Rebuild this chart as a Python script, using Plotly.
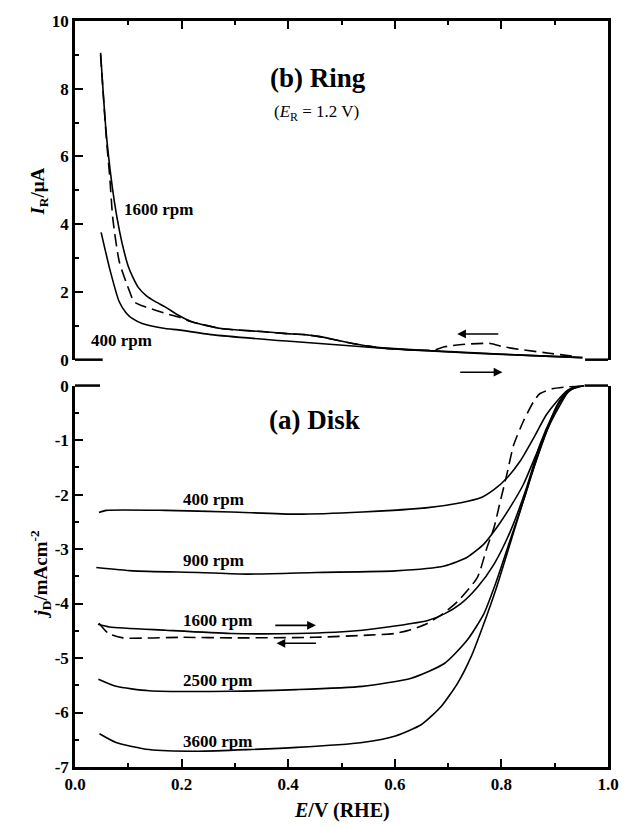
import plotly.graph_objects as go

# ---------------- data ----------------
# (b) Ring current, I_R / uA  vs  E / V (RHE)
E_ring_1600 = [0.048, 0.059, 0.074, 0.084, 0.092, 0.100, 0.108, 0.118, 0.133, 0.150, 0.169, 0.194, 0.219, 0.274,
               0.35, 0.397, 0.43, 0.459, 0.49, 0.521, 0.55, 0.582, 0.675, 0.767, 0.86, 0.952]
I_ring_1600 = [9.06, 6.61, 4.65, 3.76, 3.2, 2.75, 2.45, 2.15, 1.90, 1.72, 1.56, 1.31, 1.12, 0.92,
               0.83, 0.77, 0.74, 0.68, 0.58, 0.48, 0.40, 0.34, 0.26, 0.19, 0.12, 0.06]

E_ring_1600r = [0.048, 0.059, 0.065, 0.071, 0.083, 0.098, 0.111, 0.126, 0.176, 0.194, 0.219, 0.274, 0.35, 0.397,
                0.43, 0.459, 0.49, 0.521, 0.55, 0.582, 0.64, 0.675, 0.693, 0.736, 0.779, 0.804, 0.841, 0.890, 0.940]
I_ring_1600r = [9.0, 6.5, 5.43, 4.16, 2.9, 2.2, 1.71, 1.59, 1.34, 1.26, 1.12, 0.92, 0.83, 0.77,
                0.74, 0.68, 0.58, 0.48, 0.40, 0.34, 0.28, 0.29, 0.38, 0.46, 0.48, 0.38, 0.29, 0.19, 0.09]

E_ring_400 = [0.049, 0.065, 0.083, 0.096, 0.108, 0.126, 0.169, 0.194, 0.255, 0.397, 0.459, 0.582, 0.675, 0.767, 0.86, 0.952]
I_ring_400 = [3.76, 2.69, 1.71, 1.38, 1.21, 1.07, 0.92, 0.88, 0.74, 0.55, 0.48, 0.33, 0.25, 0.18, 0.12, 0.06]

# (a) Disk current density, j_D / mA cm^-2
E_400 = [0.045, 0.059, 0.17, 0.293, 0.416, 0.539, 0.662, 0.724, 0.761, 0.786, 0.810, 0.835, 0.860, 0.884, 0.903, 0.925, 0.94, 0.955]
j_400 = [-2.33, -2.29, -2.29, -2.32, -2.36, -2.32, -2.24, -2.15, -2.06, -1.91, -1.70, -1.39, -0.97, -0.54, -0.30, -0.08, -0.02, 0.0]

E_900 = [0.040, 0.108, 0.231, 0.323, 0.453, 0.601, 0.693, 0.736, 0.767, 0.791, 0.816, 0.841, 0.865, 0.884, 0.903, 0.925, 0.94, 0.955]
j_900 = [-3.34, -3.40, -3.43, -3.46, -3.43, -3.40, -3.31, -3.15, -2.91, -2.61, -2.24, -1.82, -1.27, -0.85, -0.48, -0.12, -0.03, 0.0]

E_1600 = [0.043, 0.065, 0.17, 0.293, 0.416, 0.539, 0.662, 0.693, 0.724, 0.755, 0.786, 0.817, 0.847, 0.872, 0.896, 0.915, 0.935, 0.955]
j_1600 = [-4.38, -4.43, -4.49, -4.55, -4.55, -4.49, -4.31, -4.19, -4.00, -3.70, -3.28, -2.67, -1.88, -1.09, -0.54, -0.2, -0.04, 0.0]

E_1600r = [0.045, 0.063, 0.09, 0.2, 0.3, 0.45, 0.55, 0.6, 0.63, 0.66, 0.69, 0.72, 0.755, 0.773, 0.786, 0.798, 0.81, 0.823,
           0.841, 0.86, 0.872, 0.895, 0.918, 0.946]
j_1600r = [-4.36, -4.55, -4.63, -4.62, -4.63, -4.62, -4.58, -4.55, -4.48, -4.37, -4.19, -3.94, -3.52, -2.97, -2.61, -2.12,
           -1.64, -1.09, -0.66, -0.30, -0.15, -0.06, -0.03, -0.01]

E_2500 = [0.044, 0.077, 0.139, 0.293, 0.416, 0.539, 0.631, 0.693, 0.736, 0.767, 0.791, 0.816, 0.841, 0.865, 0.890, 0.91, 0.93, 0.955]
j_2500 = [-5.39, -5.52, -5.60, -5.61, -5.58, -5.52, -5.37, -5.10, -4.67, -4.19, -3.58, -2.85, -2.12, -1.39, -0.72, -0.3, -0.07, 0.0]

E_3600 = [0.046, 0.077, 0.139, 0.231, 0.416, 0.539, 0.601, 0.650, 0.687, 0.718, 0.743, 0.767, 0.791, 0.816, 0.841, 0.860,
          0.884, 0.905, 0.925, 0.955]
j_3600 = [-6.39, -6.55, -6.68, -6.71, -6.64, -6.55, -6.43, -6.22, -5.89, -5.46, -4.98, -4.37, -3.70, -2.91, -2.12, -1.52,
          -0.85, -0.35, -0.1, 0.0]

# tick labels
x_tickvals = [0.0, 0.2, 0.4, 0.6, 0.8, 1.0]
x_ticktext = ["0.0", "0.2", "0.4", "0.6", "0.8", "1.0"]
ring_tickvals = [0, 2, 4, 6, 8, 10]
ring_ticktext = ["0", "2", "4", "6", "8", "10"]
disk_tickvals = [0, -1, -2, -3, -4, -5, -6, -7]
disk_ticktext = ["0", "-1", "-2", "-3", "-4", "-5", "-6", "-7"]

# labels (text, E, value)
ring_labels = [("1600 rpm", 0.089, 4.44), ("400 rpm", 0.026, 0.58)]
disk_labels = [("400 rpm", 0.199, -2.09), ("900 rpm", 0.199, -3.21), ("1600 rpm", 0.199, -4.31),
               ("2500 rpm", 0.199, -5.42), ("3600 rpm", 0.199, -6.54)]
# arrows (head E, tail E, value)
ring_arrow_back = (0.717, 0.797, 0.76)
ring_arrow_fwd = (0.802, 0.720)        # drawn just below the ring panel
disk_arrows = [(0.452, 0.373, -4.40), (0.378, 0.455, -4.73)]

# ---------------- figure ----------------
FONT = "Times New Roman"
LW = 1.6
DASH = "12px,6px"
fig = go.Figure()

def line(x, y, xa, ya, dash="solid"):
    fig.add_trace(go.Scatter(x=x, y=y, xaxis=xa, yaxis=ya, mode="lines",
                             line=dict(color="black", width=LW, dash=dash, shape="spline", smoothing=0.6),
                             showlegend=False, hoverinfo="skip"))

line(E_ring_1600, I_ring_1600, "x2", "y2")
line(E_ring_1600r, I_ring_1600r, "x2", "y2", DASH)
line(E_ring_400, I_ring_400, "x2", "y2")

line(E_400, j_400, "x", "y")
line(E_900, j_900, "x", "y")
line(E_1600, j_1600, "x", "y")
line(E_1600r, j_1600r, "x", "y", DASH)
line(E_2500, j_2500, "x", "y")
line(E_3600, j_3600, "x", "y")

tickfont = dict(family=FONT, size=17, color="black", weight="bold")
AXW = 2.5

fig.update_layout(
    width=631, height=828,
    margin=dict(l=75, r=15, t=18, b=61),
    plot_bgcolor="white", paper_bgcolor="white",
    font=dict(family=FONT, color="black"),
    xaxis=dict(domain=[0, 1], anchor="y", range=[0, 1], tickvals=x_tickvals, ticktext=x_ticktext,
               ticks="inside", ticklen=8, tickwidth=2, tickcolor="black",
               minor=dict(ticks="inside", ticklen=4, tickwidth=1.5, dtick=0.1, tickcolor="black"),
               showline=True, linewidth=AXW, linecolor="black", mirror=False,
               showgrid=False, zeroline=False, tickfont=tickfont),
    yaxis=dict(domain=[0, 0.5113], anchor="x", range=[-7, 0], tickvals=disk_tickvals, ticktext=disk_ticktext,
               ticks="inside", ticklen=8, tickwidth=2, tickcolor="black",
               minor=dict(ticks="inside", ticklen=4, tickwidth=1.5, dtick=0.5, tickcolor="black"),
               showline=True, linewidth=AXW, linecolor="black", mirror=True,
               showgrid=False, zeroline=False, tickfont=tickfont),
    xaxis2=dict(domain=[0, 1], anchor="y2", range=[0, 1], matches="x", side="top", showticklabels=False,
                tickvals=x_tickvals, ticks="inside", ticklen=8, tickwidth=2, tickcolor="black",
                minor=dict(ticks="inside", ticklen=4, tickwidth=1.5, dtick=0.1, tickcolor="black"),
                showline=True, linewidth=AXW, linecolor="black", mirror=False,
                showgrid=False, zeroline=False),
    yaxis2=dict(domain=[0.546, 1], anchor="x2", range=[0, 10], tickvals=ring_tickvals, ticktext=ring_ticktext,
                ticks="inside", ticklen=8, tickwidth=2, tickcolor="black",
                minor=dict(ticks="inside", ticklen=4, tickwidth=1.5, dtick=1, tickcolor="black"),
                showline=True, linewidth=AXW, linecolor="black", mirror=True,
                showgrid=False, zeroline=False, tickfont=tickfont),
)

# partial borders (broken frame between the panels)
seg = dict(color="black", width=AXW)
fig.add_shape(type="line", xref="x domain", yref="y2 domain", x0=0, x1=0.052, y0=0, y1=0, line=seg)
fig.add_shape(type="line", xref="x domain", yref="y2 domain", x0=0.957, x1=1, y0=0, y1=0, line=seg)
fig.add_shape(type="line", xref="x domain", yref="y domain", x0=0, x1=0.047, y0=1, y1=1, line=seg)
fig.add_shape(type="line", xref="x domain", yref="y domain", x0=0.956, x1=1, y0=1, y1=1, line=seg)

ann = []
# panel titles
ann.append(dict(text="<b>(b) Ring</b>", x=0.455, y=8.32, xref="x2", yref="y2", showarrow=False,
                font=dict(family=FONT, size=27, color="black")))
ann.append(dict(text="(<i>E</i><sub>R</sub> = 1.2 V)", x=0.453, y=7.29, xref="x2", yref="y2", showarrow=False,
                font=dict(family=FONT, size=17, color="black")))
ann.append(dict(text="<b>(a) Disk</b>", x=0.45, y=-0.63, xref="x", yref="y", showarrow=False,
                font=dict(family=FONT, size=27, color="black")))
for t, xx, yy in ring_labels:
    ann.append(dict(text="<b>%s</b>" % t, x=xx, y=yy, xref="x2", yref="y2", xanchor="left", showarrow=False,
                    font=dict(family=FONT, size=17, color="black")))
for t, xx, yy in disk_labels:
    ann.append(dict(text="<b>%s</b>" % t, x=xx, y=yy, xref="x", yref="y", xanchor="left", showarrow=False,
                    font=dict(family=FONT, size=17, color="black")))
hx, tx, yy = ring_arrow_back
ann.append(dict(text="", x=hx, y=yy, ax=tx, ay=yy, xref="x2", yref="y2", axref="x2", ayref="y2",
                showarrow=True, arrowhead=2, arrowsize=1.1, arrowwidth=1.6, arrowcolor="black"))
hx, tx = ring_arrow_fwd
ann.append(dict(text="", x=hx, y=-0.037, ax=tx, ay=-0.037, xref="x2", yref="y2 domain", axref="x2", ayref="y2 domain",
                showarrow=True, arrowhead=2, arrowsize=1.1, arrowwidth=1.6, arrowcolor="black"))
for hx, tx, yy in disk_arrows:
    ann.append(dict(text="", x=hx, y=yy, ax=tx, ay=yy, xref="x", yref="y", axref="x", ayref="y",
                    showarrow=True, arrowhead=2, arrowsize=1.1, arrowwidth=1.6, arrowcolor="black"))
# axis titles
ann.append(dict(text="<b><i>I</i><sub>R</sub>/μA</b>", x=-0.094, y=0.806, xref="paper", yref="paper",
                textangle=-90, showarrow=False, font=dict(family=FONT, size=19, color="black")))
ann.append(dict(text="<b><i>j</i><sub>D</sub>/mAcm<sup>-2</sup></b>", x=-0.094, y=0.197, xref="paper", yref="paper",
                textangle=-90, showarrow=False, font=dict(family=FONT, size=19, color="black")))
ann.append(dict(text="<b><i>E</i>/V (RHE)</b>", x=0.5, y=-0.076, xref="paper", yref="paper",
                showarrow=False, font=dict(family=FONT, size=20, color="black")))
fig.update_layout(annotations=ann)

fig.write_html("out.html")
